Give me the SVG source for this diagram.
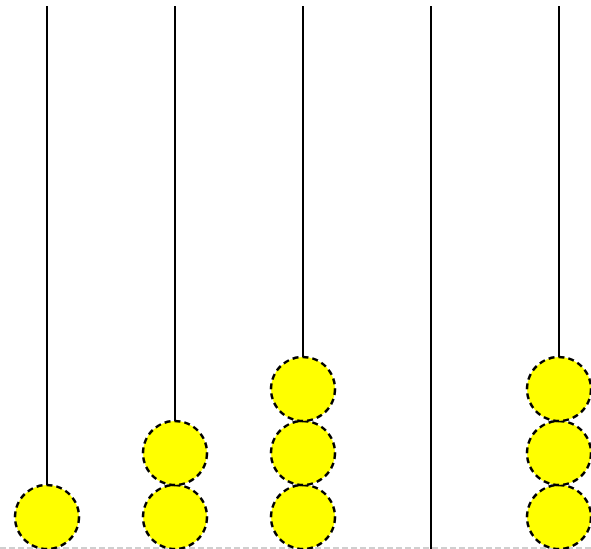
<svg xmlns="http://www.w3.org/2000/svg" width="591" height="549" viewBox="0 0 591 549">
<style>
.rod{stroke:#000;stroke-width:2;fill:none}
.bead{fill:#ffff00;stroke:#000;stroke-width:2.5;stroke-dasharray:6,4}
.base{stroke:#c0c0c0;stroke-width:1.5;stroke-dasharray:6,3}
</style>
<rect width="591" height="549" fill="#fff"/>
<g id="connectors">
<line class="rod" x1="47" y1="6" x2="47" y2="549"/>
<line class="rod" x1="175" y1="6" x2="175" y2="549"/>
<line class="rod" x1="303" y1="6" x2="303" y2="549"/>
<line class="rod" x1="431" y1="6" x2="431" y2="549"/>
<line class="rod" x1="559" y1="6" x2="559" y2="549"/>
<line class="base" x1="0" y1="548" x2="591" y2="548"/>
</g>
<g id="col1"><circle class="bead" cx="47" cy="517" r="32"/></g>
<g id="col2"><circle class="bead" cx="175" cy="517" r="32"/><circle class="bead" cx="175" cy="453" r="32"/></g>
<g id="col3"><circle class="bead" cx="303" cy="517" r="32"/><circle class="bead" cx="303" cy="453" r="32"/><circle class="bead" cx="303" cy="389" r="32"/></g>
<g id="col5"><circle class="bead" cx="559" cy="517" r="32"/><circle class="bead" cx="559" cy="453" r="32"/><circle class="bead" cx="559" cy="389" r="32"/></g>
</svg>
